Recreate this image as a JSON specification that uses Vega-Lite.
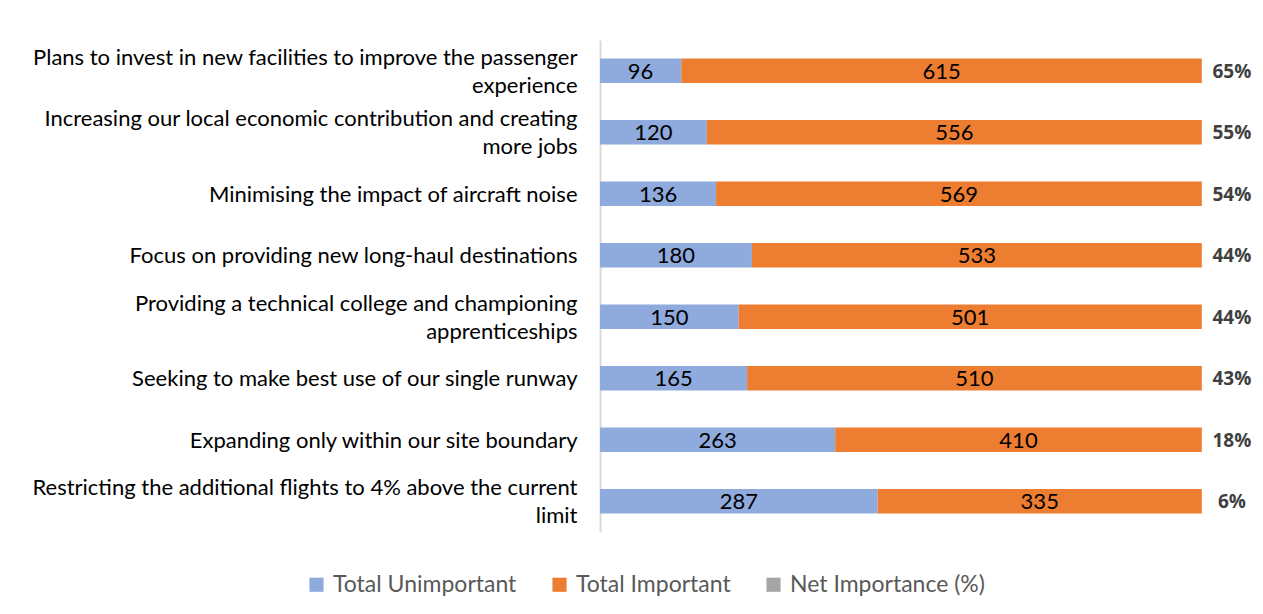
{
  "$schema": "https://vega.github.io/schema/vega-lite/v6.json",
  "autosize": "none",
  "width": 662,
  "height": 492,
  "padding": {"left": 600, "top": 40, "right": 1, "bottom": 82},
  "background": "white",
  "config": {
    "view": {"stroke": null},
    "font": "Lato",
    "axis": {"labelFont": "Lato"},
    "legend": {"labelFont": "Lato"}
  },
  "datasets": {
    "bars": [
      {"item": "Plans to invest in new facilities to improve the passenger|experience", "series": "Total Unimportant", "k": 0, "value": 96},
      {"item": "Plans to invest in new facilities to improve the passenger|experience", "series": "Total Important", "k": 1, "value": 615},
      {"item": "Increasing our local economic contribution and creating|more jobs", "series": "Total Unimportant", "k": 0, "value": 120},
      {"item": "Increasing our local economic contribution and creating|more jobs", "series": "Total Important", "k": 1, "value": 556},
      {"item": "Minimising the impact of aircraft noise", "series": "Total Unimportant", "k": 0, "value": 136},
      {"item": "Minimising the impact of aircraft noise", "series": "Total Important", "k": 1, "value": 569},
      {"item": "Focus on providing new long-haul destinations", "series": "Total Unimportant", "k": 0, "value": 180},
      {"item": "Focus on providing new long-haul destinations", "series": "Total Important", "k": 1, "value": 533},
      {"item": "Providing a technical college and championing|apprenticeships", "series": "Total Unimportant", "k": 0, "value": 150},
      {"item": "Providing a technical college and championing|apprenticeships", "series": "Total Important", "k": 1, "value": 501},
      {"item": "Seeking to make best use of our single runway", "series": "Total Unimportant", "k": 0, "value": 165},
      {"item": "Seeking to make best use of our single runway", "series": "Total Important", "k": 1, "value": 510},
      {"item": "Expanding only within our site boundary", "series": "Total Unimportant", "k": 0, "value": 263},
      {"item": "Expanding only within our site boundary", "series": "Total Important", "k": 1, "value": 410},
      {"item": "Restricting the additional flights to 4% above the current|limit", "series": "Total Unimportant", "k": 0, "value": 287},
      {"item": "Restricting the additional flights to 4% above the current|limit", "series": "Total Important", "k": 1, "value": 335}
    ],
    "net": [
      {"item": "Plans to invest in new facilities to improve the passenger|experience", "net": 0.65},
      {"item": "Increasing our local economic contribution and creating|more jobs", "net": 0.55},
      {"item": "Minimising the impact of aircraft noise", "net": 0.54},
      {"item": "Focus on providing new long-haul destinations", "net": 0.44},
      {"item": "Providing a technical college and championing|apprenticeships", "net": 0.44},
      {"item": "Seeking to make best use of our single runway", "net": 0.43},
      {"item": "Expanding only within our site boundary", "net": 0.18},
      {"item": "Restricting the additional flights to 4% above the current|limit", "net": 0.06}
    ]
  },
  "encoding": {
    "y": {
      "field": "item",
      "type": "nominal",
      "sort": null,
      "title": null,
      "scale": {"paddingInner": 0.6, "paddingOuter": 0.3},
      "axis": {
        "labelExpr": "split(datum.label, '|')",
        "labelFontSize": 22,
        "labelColor": "#000000",
        "labelLineHeight": 28,
        "labelPadding": 23,
        "labelLimit": 620,
        "labelAlign": "right",
        "labelBaseline": "middle",
        "labelOffset": {"condition": {"test": "indexof(datum.value, '|') >= 0", "value": -13}, "value": 1},
        "ticks": false,
        "domainColor": "#d9d9d9",
        "domainWidth": 2,
        "grid": false
      }
    }
  },
  "layer": [
    {
      "data": {"name": "bars"},
      "mark": {"type": "bar"},
      "encoding": {
        "x": {"field": "value", "type": "quantitative", "stack": "normalize", "scale": {"domain": [0, 1.1], "nice": false, "zero": true}, "axis": null},
        "order": {"field": "k", "type": "quantitative"},
        "color": {
          "field": "series",
          "type": "nominal",
          "scale": {"domain": ["Total Unimportant", "Total Important", "Net Importance (%)"], "range": ["#8FAADC", "#ED7D31", "#A5A5A5"]},
          "legend": {
            "title": null,
            "orient": "none",
            "direction": "horizontal",
            "legendX": -295,
            "legendY": 533,
            "symbolType": "square",
            "symbolSize": 200,
            "symbolStrokeWidth": 0,
            "labelFontSize": 23,
            "labelColor": "#595959",
            "labelOffset": 5,
            "labelLimit": 400,
            "columnPadding": 31
          }
        }
      }
    },
    {
      "data": {"name": "bars"},
      "mark": {"type": "text", "fontSize": 22, "color": "#000000", "baseline": "middle", "dy": 1},
      "encoding": {
        "x": {"field": "value", "type": "quantitative", "stack": "normalize", "bandPosition": 0.5},
        "order": {"field": "k", "type": "quantitative"},
        "detail": {"field": "series"},
        "text": {"field": "value", "type": "quantitative"}
      }
    },
    {
      "data": {"name": "net"},
      "mark": {"type": "text", "font": "Open Sans", "fontSize": 19, "fontWeight": "bold", "color": "#404040", "baseline": "middle", "align": "center", "dy": 1},
      "encoding": {
        "x": {"datum": 1.05, "type": "quantitative"},
        "text": {"field": "net", "type": "quantitative", "format": ".0%"}
      }
    }
  ]
}
